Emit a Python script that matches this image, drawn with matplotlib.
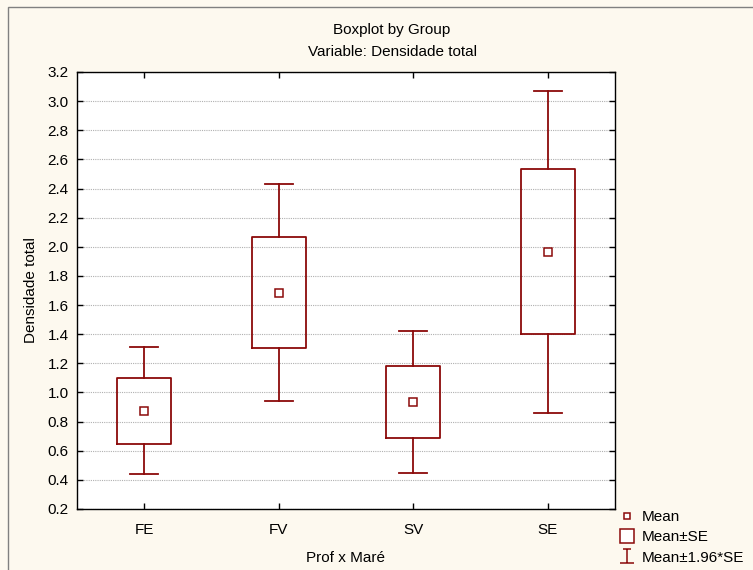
import matplotlib
matplotlib.use("Agg")
import matplotlib.pyplot as plt
from matplotlib.lines import Line2D
from matplotlib.path import Path
from matplotlib.patches import Rectangle

plt.rcParams['font.family'] = ['Liberation Sans', 'DejaVu Sans']

groups = ["FE", "FV", "SV", "SE"]
means = [0.873, 1.685, 0.937, 1.965]
se_low = [0.649, 1.308, 0.688, 1.402]
se_high = [1.098, 2.065, 1.184, 2.532]
ci_low = [0.438, 0.944, 0.450, 0.857]
ci_high = [1.311, 2.429, 1.425, 3.072]
yticks = [0.2, 0.4, 0.6, 0.8, 1.0, 1.2, 1.4, 1.6, 1.8, 2.0, 2.2, 2.4, 2.6, 2.8, 3.0, 3.2]

RED = "#8B0A0A"
BG = "#FDF9EF"
W, H = 753, 570
FS = 11

fig = plt.figure(figsize=(W / 100, H / 100), dpi=100, facecolor=BG)
ax = fig.add_axes([77 / W, 1 - 509 / H, (615 - 77) / W, (509 - 72) / H])
ax.set_facecolor("white")

# figure frame
fig.patches.append(Rectangle((8 / W, -0.1), 1.2, 1 - 7 / H + 0.1, transform=fig.transFigure,
                             fill=False, edgecolor="#808080", linewidth=1.0))

stats = []
for g, m, sl, sh, cl, ch in zip(groups, means, se_low, se_high, ci_low, ci_high):
    stats.append(dict(label=g, mean=m, med=m, q1=sl, q3=sh, whislo=cl, whishi=ch, fliers=[]))

pos = list(range(len(groups)))
ax.bxp(stats, positions=pos, widths=0.40, showmeans=True, showfliers=False,
       boxprops=dict(color=RED, linewidth=1.3),
       whiskerprops=dict(color=RED, linewidth=1.3),
       capprops=dict(color=RED, linewidth=1.3),
       medianprops=dict(visible=False),
       meanprops=dict(marker="s", markersize=5.5, markerfacecolor="white",
                      markeredgecolor=RED, markeredgewidth=1.1),
       capwidths=0.205, zorder=3)

ax.set_xlim(-0.5, 3.5)
ax.set_ylim(0.2, 3.2)
ax.set_yticks(yticks)
ax.set_yticklabels([f"{v:.1f}" for v in yticks], fontsize=FS)
ax.set_xticks(pos)
ax.set_xticklabels(groups, fontsize=FS)
ax.tick_params(direction="in", length=4, width=1, top=True, right=True)
ax.tick_params(axis="y", pad=6)
ax.tick_params(axis="x", pad=10)
ax.yaxis.grid(True, color="#b0b0b0", linestyle=(0, (1, 1)), linewidth=0.8)
ax.set_axisbelow(True)
for s in ax.spines.values():
    s.set_linewidth(1.0)
    s.set_color("black")

ax.set_xlabel("Prof x Maré", fontsize=FS, labelpad=10)
ax.set_ylabel("Densidade total", fontsize=FS, labelpad=7)

fig.text(392 / W, 1 - 30 / H, "Boxplot by Group", ha="center", va="center", fontsize=FS)
fig.text(392 / W, 1 - 52 / H, "Variable: Densidade total", ha="center", va="center", fontsize=FS)

ipath = Path([(-1, -1), (1, -1), (0, -1), (0, 1), (-0.55, 1), (0.55, 1)],
             [Path.MOVETO, Path.LINETO, Path.MOVETO, Path.LINETO, Path.MOVETO, Path.LINETO])
handles = [
    Line2D([], [], linestyle="none", marker="s", markersize=5, markerfacecolor="white",
           markeredgecolor=RED, markeredgewidth=1.1),
    Line2D([], [], linestyle="none", marker="s", markersize=9.5, markerfacecolor="white",
           markeredgecolor=RED, markeredgewidth=1.1),
    Line2D([], [], linestyle="none", marker=ipath, markersize=9.5, markerfacecolor="none",
           markeredgecolor=RED, markeredgewidth=1.1),
]
fig.legend(handles, ["Mean", "Mean±SE", "Mean±1.96*SE"], loc="upper left",
           bbox_to_anchor=(618 / W, 1 - 510 / H), frameon=False, fontsize=FS,
           handlelength=1.2, handletextpad=0.35, labelspacing=0.42, borderaxespad=0,
           borderpad=0)

fig.savefig("out.png", dpi=100, facecolor=BG)
